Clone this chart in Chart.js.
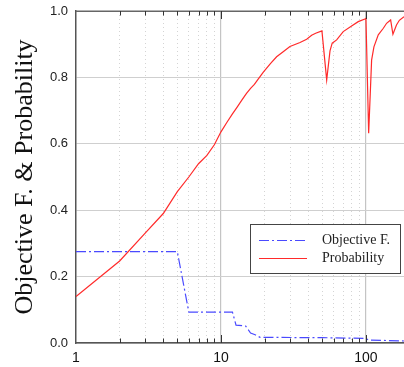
<!DOCTYPE html>
<html>
<head>
<meta charset="utf-8">
<script src="https://cdn.jsdelivr.net/npm/chart.js@4"></script>
<style>
html,body{margin:0;padding:0;background:#fff;}
#wrap{width:404px;height:367px;position:relative;}
</style>
</head>
<body>
<div id="wrap"><canvas id="c" width="404" height="367"></canvas></div>
<script>
// ---- data ----
const probX = [1, 2, 3, 4, 5, 6, 7, 8, 9, 10, 11, 12, 13, 14, 15, 16, 17, 18, 19.6, 22, 24.2, 27, 29.9, 35.1, 39, 42.2, 45, 49.7, 53.6, 56.5, 58.5, 62.8, 69.7, 79.6, 88.5, 98.4, 100, 104.4, 109.4, 113.5, 121.6, 131.8, 138.8, 148, 153.5, 162.4, 170, 183];
const probY = [0.14, 0.247, 0.331, 0.39, 0.456, 0.50, 0.54, 0.565, 0.597, 0.636, 0.665, 0.69, 0.712, 0.733, 0.752, 0.767, 0.779, 0.794, 0.816, 0.842, 0.862, 0.878, 0.893, 0.905, 0.915, 0.927, 0.933, 0.94, 0.792, 0.88, 0.903, 0.913, 0.938, 0.955, 0.968, 0.976, 0.978, 0.632, 0.852, 0.892, 0.928, 0.948, 0.963, 0.973, 0.93, 0.958, 0.972, 0.983];
const objX = [1, 5, 6, 12, 12.7, 14.8, 16, 17.2, 18.6, 50, 100, 104, 183];
const objY = [0.275, 0.275, 0.093, 0.093, 0.054, 0.051, 0.03, 0.025, 0.017, 0.016, 0.014, 0.009, 0.006];
const seriesNames = ['Objective F.', 'Probability'];
const yTicks = [0, 0.2, 0.4, 0.6, 0.8, 1.0];
const xMajor = [1, 10, 100];
const yTitle = 'Objective F. & Probability';

function mantissa(v){ const p = Math.pow(10, Math.floor(Math.log10(v)+1e-9)); return v / p; }
function isGridVal(v){ const m = mantissa(v); return Math.abs(m - Math.round(m)) < 1e-6 && Math.round(m) >= 1 && Math.round(m) <= 9; }
function isMajor(v){ return xMajor.some(t => Math.abs(t - v) < 1e-6); }

const frameTicks = {
  id: 'frameTicks',
  afterDatasetsDraw(chart){
    const ctx = chart.ctx, a = chart.chartArea, xs = chart.scales.x;
    ctx.save();
    ctx.strokeStyle = '#666'; ctx.lineWidth = 1.5;
    ctx.beginPath(); ctx.moveTo(a.left, a.top + 0.25); ctx.lineTo(a.right, a.top + 0.25); ctx.stroke();
    ctx.strokeStyle = '#333'; ctx.lineWidth = 1;
    xs.ticks.forEach(t => {
      if (!isGridVal(t.value)) return;
      if (t.value === 1) return;
      const px = Math.round(xs.getPixelForValue(t.value)) + 0.5;
      const len = isMajor(t.value) ? 8 : 4.5;
      ctx.beginPath();
      ctx.moveTo(px, a.bottom); ctx.lineTo(px, a.bottom - len);
      ctx.moveTo(px, a.top); ctx.lineTo(px, a.top + len);
      ctx.stroke();
    });
    ctx.restore();
  }
};

const boxLegend = {
  id: 'boxLegend',
  afterDraw(chart){
    const ctx = chart.ctx;
    const bx = 250.5, by = 224.5, bw = 150, bh = 49;
    ctx.save();
    ctx.fillStyle = '#fff';
    ctx.fillRect(bx, by, bw, bh);
    ctx.strokeStyle = '#444'; ctx.lineWidth = 1;
    ctx.strokeRect(bx, by, bw, bh);
    ctx.font = '14px "Liberation Serif", "Times New Roman", serif';
    ctx.textBaseline = 'middle';
    chart.data.datasets.forEach((ds, i) => {
      const yy = 240 + i * 18;
      ctx.strokeStyle = ds.borderColor;
      ctx.lineWidth = ds.borderWidth;
      ctx.setLineDash(ds.borderDash || []);
      ctx.beginPath(); ctx.moveTo(259, yy + 0.5); ctx.lineTo(307, yy + 0.5); ctx.stroke();
      ctx.setLineDash([]);
      ctx.fillStyle = '#222';
      ctx.fillText(ds.label, 322, yy);
    });
    ctx.restore();
  }
};

const xMin = 1, xMax = 183;

function noPadX(s){ s.height = 24; s.paddingLeft = 0; s.paddingRight = 0; }

new Chart(document.getElementById('c'), {
  type: 'line',
  data: {
    datasets: [
      {
        label: seriesNames[0],
        data: objX.map((x, i) => ({x: x, y: objY[i]})),
        borderColor: '#4a4aff',
        borderWidth: 1.2,
        borderDash: [10, 3, 2, 3],
        pointRadius: 0,
        tension: 0,
        xAxisID: 'x'
      },
      {
        label: seriesNames[1],
        data: probX.map((x, i) => ({x: x, y: probY[i]})),
        borderColor: '#ff2a2a',
        borderWidth: 1.2,
        pointRadius: 0,
        tension: 0,
        xAxisID: 'x'
      }
    ]
  },
  options: {
    responsive: false,
    animation: false,
    events: [],
    layout: {padding: {top: 11, right: 0, bottom: 0, left: 0}},
    plugins: {legend: {display: false}, tooltip: {enabled: false}},
    scales: {
      x: {
        type: 'logarithmic',
        position: 'bottom',
        min: xMin, max: xMax,
        afterFit: noPadX,
        grid: {
          drawTicks: false,
          color: c => (c.tick && isMajor(c.tick.value) && c.tick.value !== 1) ? '#c4c4c4' : 'rgba(0,0,0,0)',
          lineWidth: 1.2
        },
        border: {display: true, color: '#555', width: 1.5},
        ticks: {
          autoSkip: false,
          maxRotation: 0,
          padding: 7,
          color: '#111',
          font: {family: '"Liberation Sans", Arial, sans-serif', size: 14},
          callback: v => isMajor(v) ? String(v) : ''
        }
      },
      xMinor: {
        type: 'logarithmic',
        position: 'bottom',
        min: xMin, max: xMax,
        afterFit(s){ s.height = 0; s.paddingLeft = 0; s.paddingRight = 0; },
        grid: {
          drawTicks: false,
          color: c => (c.tick && isGridVal(c.tick.value) && !isMajor(c.tick.value)) ? '#d4d4d4' : 'rgba(0,0,0,0)',
          lineWidth: 1
        },
        border: {display: false, dash: [1, 3]},
        ticks: {display: false, autoSkip: false, callback: () => ''}
      },
      y: {
        type: 'linear',
        min: 0, max: 1,
        afterFit(s){ s.width = 76; s.paddingTop = 0; s.paddingBottom = 0; },
        afterBuildTicks(s){ s.ticks = yTicks.map(v => ({value: v})); },
        grid: {drawTicks: false, color: '#cfcfcf', lineWidth: 1},
        border: {display: true, color: '#555', width: 1.5},
        ticks: {
          padding: 8,
          color: '#222',
          font: {family: '"Liberation Sans", Arial, sans-serif', size: 13},
          callback: v => Number(v).toFixed(1)
        },
        title: {
          display: true,
          text: yTitle,
          color: '#111',
          font: {family: '"Liberation Serif", "Times New Roman", serif', size: 26},
          padding: {top: 10, bottom: 0}
        }
      }
    }
  },
  plugins: [frameTicks, boxLegend]
});
</script>
</body>
</html>
